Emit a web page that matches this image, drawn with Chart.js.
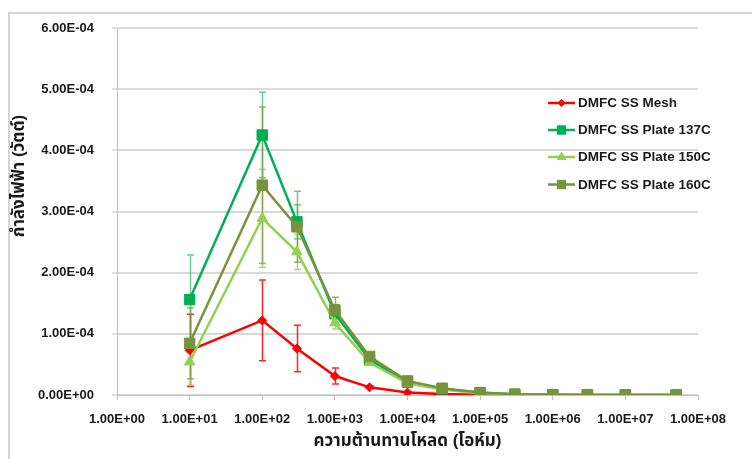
<!DOCTYPE html>
<html>
<head>
<meta charset="utf-8">
<script src="https://cdn.jsdelivr.net/npm/chart.js@4/dist/chart.umd.min.js"></script>
<style>
  html, body { margin: 0; padding: 0; background: #ffffff; }
  #wrap { width: 752px; height: 459px; position: relative; }
</style>
</head>
<body>
<div id="wrap"><canvas id="c" width="752" height="459"></canvas></div>
<script>
// Load resistance (ohm)
const loadResistance = [10, 100, 300, 1000, 3000, 1e4, 3e4, 1e5, 3e5, 1e6, 3e6, 1e7, 5e7];

// Power (W) for each cell and its error
const meshPower     = [0.73e-4, 1.22e-4, 0.76e-4, 0.31e-4, 0.125e-4, 0.04e-4, 0.015e-4, 0.005e-4, 0.002e-4, 0.001e-4, 0.0005e-4, 0.0003e-4, 0.0001e-4];
const meshError     = [0.59e-4, 0.66e-4, 0.38e-4, 0.13e-4, 0.02e-4, 0.005e-4, 0, 0, 0, 0, 0, 0, 0];
const plate137Power = [1.56e-4, 4.25e-4, 2.83e-4, 1.33e-4, 0.58e-4, 0.21e-4, 0.10e-4, 0.035e-4, 0.012e-4, 0.004e-4, 0.002e-4, 0.001e-4, 0.0005e-4];
const plate137Error = [0.73e-4, 0.70e-4, 0.28e-4, 0.15e-4, 0.03e-4, 0.01e-4, 0, 0, 0, 0, 0, 0, 0];
const plate150Power = [0.54e-4, 2.89e-4, 2.34e-4, 1.18e-4, 0.53e-4, 0.19e-4, 0.09e-4, 0.03e-4, 0.01e-4, 0.004e-4, 0.002e-4, 0.001e-4, 0.0005e-4];
const plate150Error = [0.38e-4, 0.80e-4, 0.29e-4, 0.10e-4, 0.03e-4, 0.01e-4, 0, 0, 0, 0, 0, 0, 0];
const plate160Power = [0.845e-4, 3.43e-4, 2.75e-4, 1.39e-4, 0.63e-4, 0.23e-4, 0.11e-4, 0.04e-4, 0.012e-4, 0.005e-4, 0.002e-4, 0.001e-4, 0.0005e-4];
const plate160Error = [0.58e-4, 1.28e-4, 0.58e-4, 0.21e-4, 0.04e-4, 0.01e-4, 0, 0, 0, 0, 0, 0, 0];

const seriesNames = ['DMFC SS Mesh', 'DMFC SS Plate 137C', 'DMFC SS Plate 150C', 'DMFC SS Plate 160C'];

// Axis ticks
const xTickValues = [1, 10, 100, 1000, 1e4, 1e5, 1e6, 1e7, 1e8];
const xTickLabels = ['1.00E+00', '1.00E+01', '1.00E+02', '1.00E+03', '1.00E+04', '1.00E+05', '1.00E+06', '1.00E+07', '1.00E+08'];
const yTickValues = [0, 1e-4, 2e-4, 3e-4, 4e-4, 5e-4, 6e-4];
const yTickLabels = ['0.00E+00', '1.00E-04', '2.00E-04', '3.00E-04', '4.00E-04', '5.00E-04', '6.00E-04'];

const xTitle = 'ความต้านทานโหลด (โอห์ม)';
const yTitle = 'กำลังไฟฟ้า (วัตต์)';

const FONT = '"Liberation Sans", Arial, "Noto Sans Thai", "Noto Sans", sans-serif';

const toPoints = (ys) => ys.map((y, i) => ({ x: loadResistance[i], y }));

const styles = [
  { color: '#ff0000', err: 'rgba(255,0,0,0.85)', point: 'rectRot', radius: 4.5, order: 4 },
  { color: '#00b050', err: 'rgba(0,176,80,0.6)', point: 'rect', radius: 7.4, order: 3 },
  { color: '#92d050', err: 'rgba(146,208,80,0.8)', point: 'triangle', radius: 6, order: 2 },
  { color: '#77933c', err: 'rgba(119,147,60,0.7)', point: 'rect', radius: 7.4, order: 1 }
];
const seriesValues = [meshPower, plate137Power, plate150Power, plate160Power];
const seriesErrors = [meshError, plate137Error, plate150Error, plate160Error];

const datasets = seriesValues.map((vals, i) => ({
  label: seriesNames[i],
  data: toPoints(vals),
  errors: seriesErrors[i],
  errColor: styles[i].err,
  borderColor: styles[i].color,
  backgroundColor: styles[i].color,
  pointBackgroundColor: styles[i].color,
  pointBorderColor: styles[i].color,
  pointStyle: styles[i].point,
  pointRadius: styles[i].radius,
  pointBorderWidth: 1,
  borderWidth: 2.5,
  tension: 0,
  order: styles[i].order
}));

// Frame around the whole chart
const framePlugin = {
  id: 'frame',
  beforeDraw(chart) {
    const ctx = chart.ctx;
    ctx.save();
    ctx.fillStyle = '#ffffff';
    ctx.fillRect(0, 0, chart.width, chart.height);
    ctx.strokeStyle = '#d4d4d4';
    ctx.lineWidth = 2;
    ctx.strokeRect(9, 13, chart.width + 20, chart.height + 20);
    ctx.restore();
  }
};

// Vertical error bars with caps, placed through the chart scales
const errorBarPlugin = {
  id: 'errorBars',
  beforeDatasetsDraw(chart) {
    const ctx = chart.ctx;
    const xs = chart.scales.x, ys = chart.scales.y;
    ctx.save();
    chart.data.datasets.forEach((ds) => {
      ctx.strokeStyle = ds.errColor;
      ctx.lineWidth = 1.5;
      ds.data.forEach((p, j) => {
        const e = ds.errors[j];
        if (!e) return;
        const px = Math.round(xs.getPixelForValue(p.x)) + 0.5;
        const top = ys.getPixelForValue(p.y + e);
        const bot = ys.getPixelForValue(Math.max(p.y - e, 0));
        ctx.beginPath();
        ctx.moveTo(px, top); ctx.lineTo(px, bot);
        ctx.moveTo(px - 3.5, top); ctx.lineTo(px + 3.5, top);
        ctx.moveTo(px - 3.5, bot); ctx.lineTo(px + 3.5, bot);
        ctx.stroke();
      });
    });
    ctx.restore();
  }
};

// Legend inside the plot and the rotated y title
const legendPlugin = {
  id: 'insideLegend',
  afterDraw(chart) {
    const ctx = chart.ctx;
    ctx.save();
    const rows = [103, 130, 157, 184.5];
    chart.data.datasets.forEach((ds, i) => {
      const y = rows[i];
      ctx.strokeStyle = ds.borderColor;
      ctx.lineWidth = 2.5;
      ctx.beginPath();
      ctx.moveTo(548, y); ctx.lineTo(575, y);
      ctx.stroke();
      ctx.fillStyle = ds.borderColor;
      ctx.lineWidth = 1;
      Chart.helpers.drawPoint(ctx, { pointStyle: ds.pointStyle, radius: ds.pointRadius * 0.8, borderWidth: 1, rotation: 0 }, 561.5, y);
      ctx.fillStyle = '#1a1a1a';
      ctx.font = 'bold 13.5px ' + FONT;
      ctx.textBaseline = 'middle';
      ctx.textAlign = 'left';
      ctx.fillText(ds.label, 578, y + 0.5);
    });

    ctx.translate(19, 176);
    ctx.rotate(-Math.PI / 2);
    ctx.fillStyle = '#1a1a1a';
    ctx.font = 'bold 17px ' + FONT;
    ctx.textAlign = 'center';
    ctx.textBaseline = 'middle';
    ctx.fillText(yTitle, 0, 0);
    ctx.restore();
  }
};

new Chart(document.getElementById('c'), {
  type: 'line',
  data: { datasets },
  options: {
    responsive: false,
    animation: false,
    devicePixelRatio: 1,
    layout: { padding: { top: 28, right: 54, bottom: 0, left: 0 } },
    plugins: {
      legend: { display: false },
      tooltip: { enabled: false }
    },
    scales: {
      x: {
        type: 'logarithmic',
        min: 1,
        max: 1e8,
        afterBuildTicks(scale) {
          scale.ticks = xTickValues.map(v => ({ value: v }));
        },
        afterFit(scale) { scale.height = 64; },
        ticks: {
          autoSkip: false,
          maxRotation: 0,
          padding: 12,
          color: '#1a1a1a',
          font: { family: FONT, size: 13, weight: 'bold' },
          callback(value, index) { return xTickLabels[index]; }
        },
        grid: {
          drawOnChartArea: false,
          drawTicks: true,
          tickLength: 5,
          color: '#bfbfbf',
          lineWidth: 1
        },
        border: { color: '#bfbfbf', width: 1 },
        title: {
          display: true,
          text: xTitle,
          color: '#1a1a1a',
          font: { family: FONT, size: 17, weight: 'bold' },
          padding: { top: 0, bottom: 7 }
        }
      },
      y: {
        type: 'linear',
        min: 0,
        max: 6e-4,
        afterBuildTicks(scale) {
          scale.ticks = yTickValues.map(v => ({ value: v }));
        },
        afterFit(scale) { scale.width = 117; },
        ticks: {
          padding: 18,
          color: '#1a1a1a',
          font: { family: FONT, size: 13, weight: 'bold' },
          callback(value, index) { return yTickLabels[index]; }
        },
        grid: {
          color: '#d9d9d9',
          lineWidth: 2,
          drawTicks: true,
          tickLength: 5,
          tickColor: '#bfbfbf',
          tickWidth: 1
        },
        border: { color: '#bfbfbf', width: 1 }
      }
    }
  },
  plugins: [framePlugin, errorBarPlugin, legendPlugin]
});
</script>
</body>
</html>
